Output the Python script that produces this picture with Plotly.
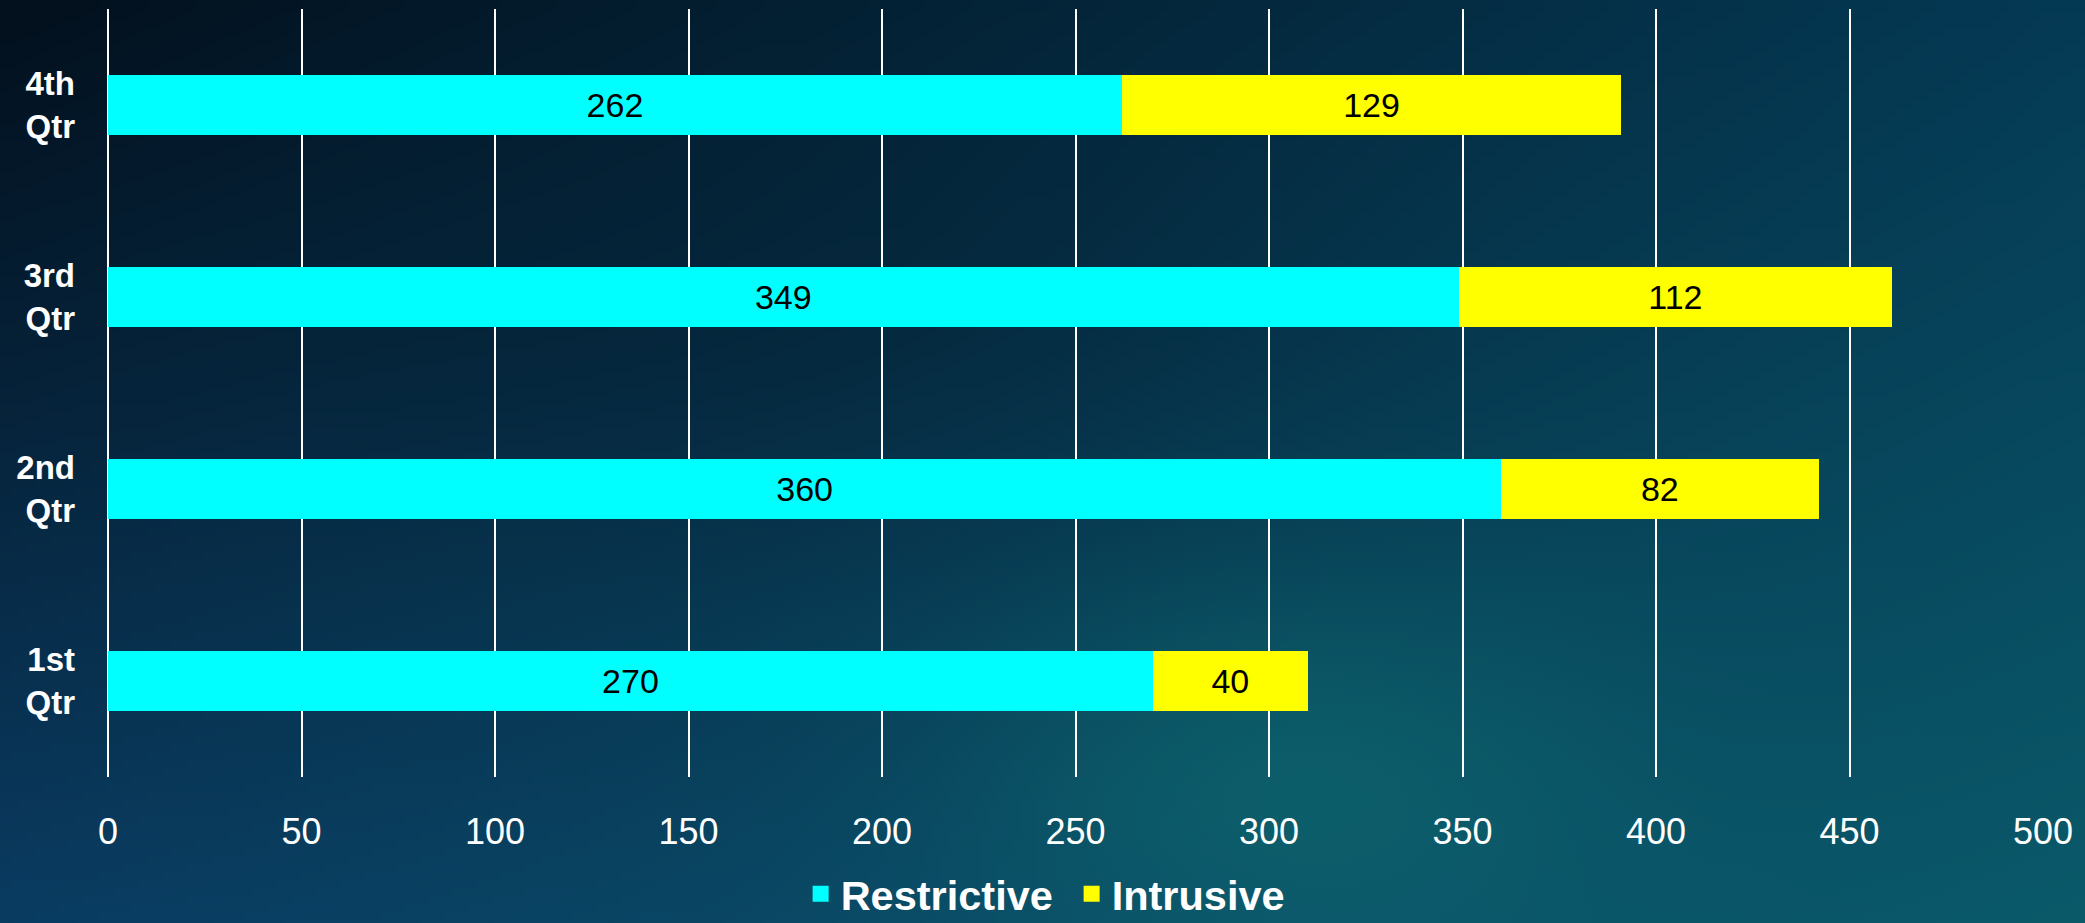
import base64, zlib, struct
import numpy as np
import plotly.graph_objects as go

categories = ["1st<br>Qtr", "2nd<br>Qtr", "3rd<br>Qtr", "4th<br>Qtr"]
restrictive = [270, 360, 349, 262]
intrusive = [40, 82, 112, 129]
x_ticks = [0, 50, 100, 150, 200, 250, 300, 350, 400, 450, 500]

W, H = 2085, 923

# ---- background image (gradient) ----
def make_png(arr):
    h, w, _ = arr.shape
    raw = b"".join(b"\x00" + arr[i].tobytes() for i in range(h))
    def chunk(t, d):
        c = struct.pack(">I", len(d)) + t + d
        return c + struct.pack(">I", zlib.crc32(t + d) & 0xffffffff)
    return (b"\x89PNG\r\n\x1a\n" + chunk(b"IHDR", struct.pack(">IIBBBBB", w, h, 8, 2, 0, 0, 0))
            + chunk(b"IDAT", zlib.compress(raw, 9)) + chunk(b"IEND", b""))

gw, gh = 260, 115
yy, xx = np.mgrid[0:gh, 0:gw]
u = xx / (gw - 1)
v = yy / (gh - 1)
def hexc(h):
    return np.array([int(h[i:i + 2], 16) for i in (1, 3, 5)], dtype=float)
tl, tr, bl, br = hexc("#03101d"), hexc("#053a55"), hexc("#0a3c62"), hexc("#0a5a6a")
img = ((1 - u)[..., None] * (1 - v)[..., None] * tl + u[..., None] * (1 - v)[..., None] * tr
       + (1 - u)[..., None] * v[..., None] * bl + u[..., None] * v[..., None] * br)
g = np.exp(-(((u - 0.62) / 0.16) ** 2 + ((v - 0.85) / 0.22) ** 2))
img = img * (1 - 0.55 * g[..., None]) + hexc("#0f6e72") * 0.55 * g[..., None]
d = np.exp(-(((u - 0.35) / 0.25) ** 2 + ((v - 0.3) / 0.25) ** 2))
img = img * (1 - 0.3 * d[..., None]) + hexc("#041a2e") * 0.3 * d[..., None]
img = np.clip(img, 0, 255).astype(np.uint8)
bg_uri = "data:image/png;base64," + base64.b64encode(make_png(img)).decode()

FONT = "Liberation Sans, Arial"

fig = go.Figure()
fig.add_trace(go.Bar(
    y=categories, x=restrictive, orientation="h", name="Restrictive",
    marker=dict(color="#00FFFF", line=dict(width=0)), width=0.3125,
    text=restrictive, textposition="inside", insidetextanchor="middle",
    textangle=0, textfont=dict(color="black", size=34, family=FONT),
    showlegend=False))
fig.add_trace(go.Bar(
    y=categories, x=intrusive, orientation="h", name="Intrusive",
    marker=dict(color="#FFFF00", line=dict(width=0)), width=0.3125,
    text=intrusive, textposition="inside", insidetextanchor="middle",
    textangle=0, textfont=dict(color="black", size=34, family=FONT),
    showlegend=False))
for nm, col in [("Restrictive", "#00FFFF"), ("Intrusive", "#FFFF00")]:
    fig.add_trace(go.Scatter(x=[None], y=[None], mode="markers", name=nm,
                             marker=dict(symbol="square", size=22, color=col)))

fig.update_layout(
    width=W, height=H,
    barmode="stack",
    margin=dict(l=108, r=42, t=9, b=146, autoexpand=False),
    paper_bgcolor="#062038",
    plot_bgcolor="rgba(0,0,0,0)",
    font=dict(family=FONT, color="white"),
    images=[dict(source=bg_uri, xref="paper", yref="paper", x=-108 / 1935, y=1 + 9 / 768,
                 sizex=W / 1935, sizey=H / 768, sizing="stretch", xanchor="left",
                 yanchor="top", layer="below")],
    xaxis=dict(range=[0, 500], tickvals=x_ticks, showgrid=True, gridcolor="white",
               gridwidth=2, zeroline=True, zerolinecolor="white", zerolinewidth=2,
               showline=False, ticks="", ticklabelstandoff=30,
               tickfont=dict(size=36, color="white", family=FONT)),
    yaxis=dict(categoryorder="array", categoryarray=categories, range=[-0.5, 3.5],
               showgrid=False, zeroline=False, showline=False, ticks="",
               ticklabelstandoff=32,
               tickfont=dict(size=33, color="white", family=FONT, weight="bold")),
    legend=dict(orientation="h", x=0.498, xanchor="center", y=-0.152, yanchor="middle",
                traceorder="normal", entrywidth=226,
                font=dict(size=41.5, color="white", family=FONT, weight="bold"),
                bgcolor="rgba(0,0,0,0)", itemsizing="trace", itemwidth=30,
                tracegroupgap=0),
)

fig.write_html("out.html", config={"displayModeBar": False},
               post_script="document.body.style.margin='0';document.body.style.overflow='hidden';")
